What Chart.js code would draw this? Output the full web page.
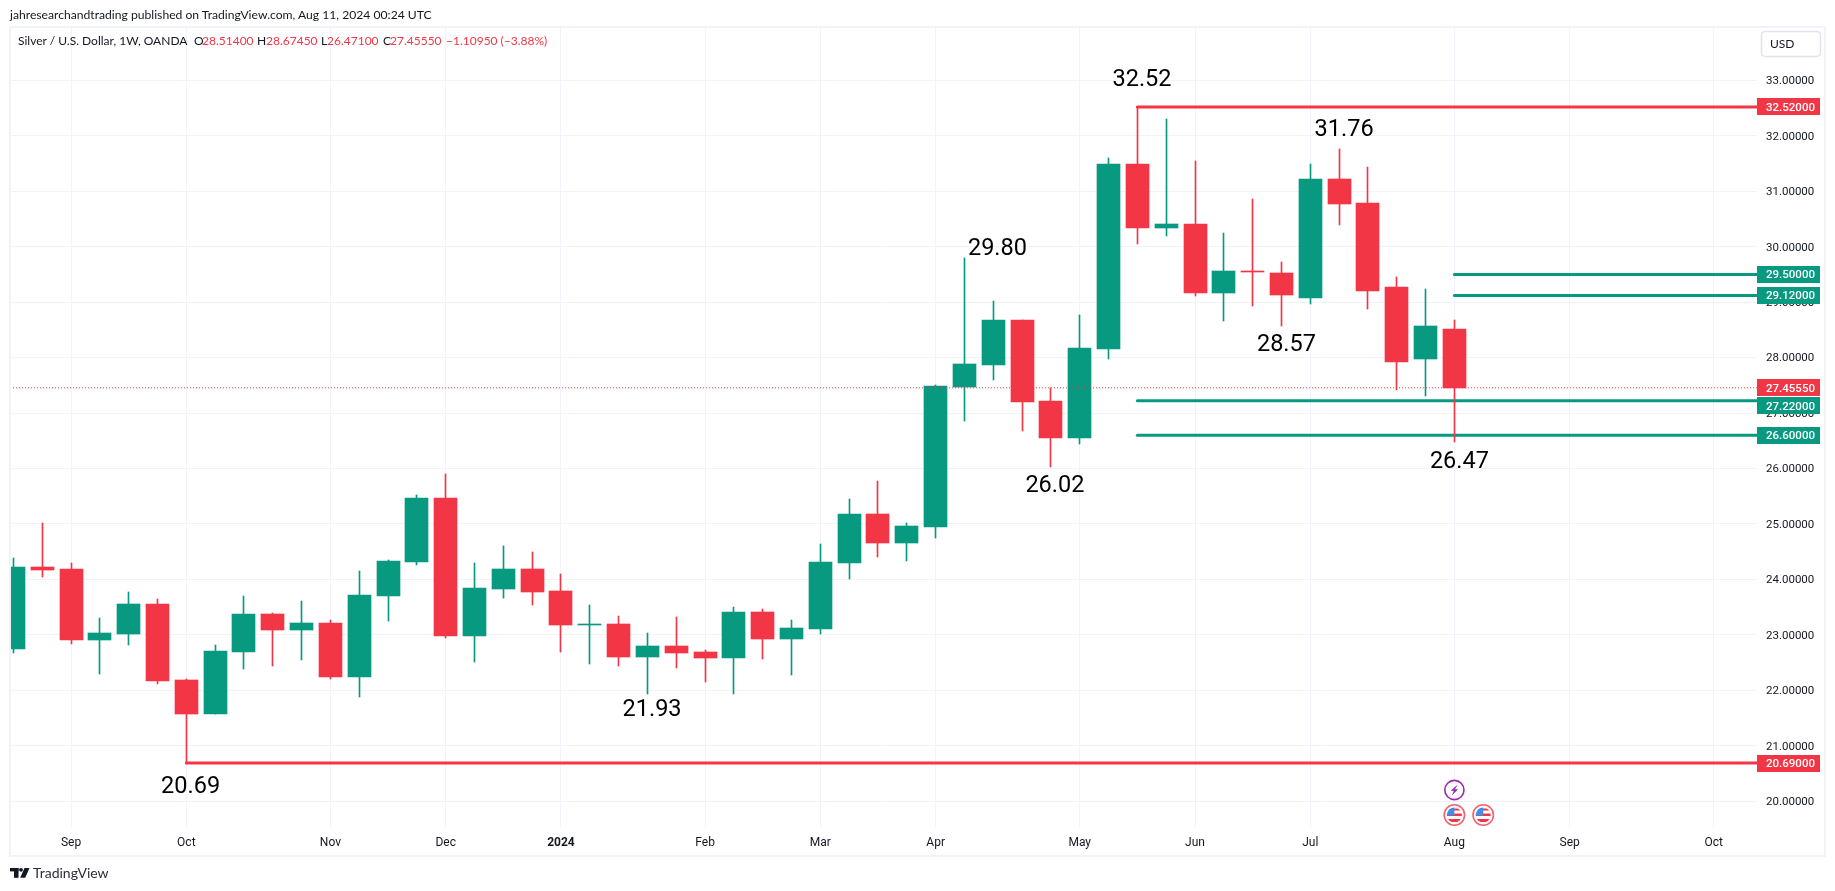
<!DOCTYPE html>
<html>
<head>
<meta charset="utf-8">
<title>Silver / U.S. Dollar, 1W, OANDA</title>
<script src="https://cdn.jsdelivr.net/npm/chart.js@4"></script>
<style>
  html,body{margin:0;padding:0;background:#fff;width:1835px;height:891px;overflow:hidden}
  canvas{position:absolute;left:0;top:0}
  .t{position:absolute;white-space:nowrap;font-family:"Lato","Roboto",sans-serif;font-size:12px;line-height:14px;color:#131722}
  .r{color:#f23645}
</style>
</head>
<body>
<canvas id="c" width="1835" height="891"></canvas>
<div class="t" style="left:10px;top:8px;font-size:12.15px">jahresearchandtrading published on TradingView.com, Aug 11, 2024 00:24 UTC</div>
<div class="t" style="left:18px;top:34px">Silver / U.S. Dollar, 1W, OANDA</div>
<div class="t" style="left:194px;top:34px">O</div><div class="t r" style="left:202px;top:34px">28.51400</div>
<div class="t" style="left:257px;top:34px">H</div><div class="t r" style="left:266px;top:34px">28.67450</div>
<div class="t" style="left:321px;top:34px">L</div><div class="t r" style="left:327px;top:34px">26.47100</div>
<div class="t" style="left:383px;top:34px">C</div><div class="t r" style="left:390px;top:34px">27.45550</div>
<div class="t r" style="left:446px;top:34px">−1.10950 (−3.88%)</div>
<div class="t" style="left:1770px;top:37px">USD</div>
<div class="t" style="left:33px;top:866px;font-size:14px;color:#2a2e39">TradingView</div>
<script>
const opens  = [22.75,24.23,24.19,22.91,23.02,23.56,22.19,21.57,22.69,23.38,23.09,23.22,22.24,23.70,24.32,25.47,22.98,23.83,24.19,23.79,23.19,23.20,22.60,22.80,22.69,22.58,23.41,22.93,23.11,24.30,25.18,24.66,24.95,27.47,27.87,28.68,27.22,26.55,28.16,31.49,30.34,30.41,29.17,29.56,29.53,29.08,31.22,30.79,29.27,27.98,28.514];
const highs  = [24.39,25.02,24.30,23.31,23.77,23.65,22.21,22.82,23.70,23.39,23.61,23.27,24.15,24.35,25.52,25.90,24.30,24.60,24.50,24.10,23.54,23.34,23.04,23.32,22.73,23.50,23.47,23.27,24.64,25.45,25.78,25.02,27.51,29.80,29.02,28.68,27.45,28.77,31.60,32.52,32.30,31.55,30.25,30.86,29.72,31.49,31.76,31.44,29.45,29.24,28.6745];
const lows   = [22.67,24.04,22.84,22.30,22.82,22.12,20.69,21.57,22.39,22.44,22.55,22.21,21.88,23.25,24.26,22.95,22.51,23.67,23.54,22.69,22.48,22.44,21.93,22.40,22.15,21.94,22.57,22.28,23.02,24.01,24.41,24.33,24.75,26.86,27.60,26.68,26.02,26.44,27.98,30.05,30.19,29.11,28.66,28.93,28.57,28.97,30.39,28.88,27.42,27.31,26.471];
const closes = [24.23,24.17,22.91,23.04,23.56,22.17,21.57,22.71,23.38,23.09,23.22,22.24,23.72,24.33,25.47,22.98,23.85,24.19,23.77,23.18,23.20,22.60,22.80,22.67,22.58,23.41,22.93,23.13,24.32,25.18,24.66,24.96,27.49,27.89,28.68,27.20,26.55,28.17,31.49,30.34,30.41,29.17,29.56,29.55,29.13,31.22,30.77,29.20,27.92,28.57,27.4555];

const monthTickIndexes = [2,6,11,15,19,24,28,32,37,41,45,50,54,59];
const monthTickLabels  = ["Sep","Oct","Nov","Dec","2024","Feb","Mar","Apr","May","Jun","Jul","Aug","Sep","Oct"];
const priceTicks = [20,21,22,23,24,25,26,27,28,29,30,31,32,33];

const levelValues  = [32.52,20.69,29.50,29.12,27.22,26.60];
const levelStarts  = [39,6,50,50,39,39];
const levelIsRed   = [true,true,false,false,false,false];
const lastPrice = 27.4555;

const calloutTexts   = ["32.52","31.76","29.80","28.57","26.47","26.02","21.93","20.69"];
const calloutIndexes = [39,46,33,44,50,36,22,6];
const calloutValues  = [32.52,31.76,29.80,28.57,26.47,26.02,21.93,20.69];

const flagEventIndexes = [50,51];
const boltEventIndexes = [50];

/* style only */
const RED="#f23645", GREEN="#089981", GRID="#f0f3fa", TEXT="#131722";
const FONT='Roboto, "Liberation Sans", sans-serif';
const X_MIN=-0.118, X_MAX=60.5, Y_MIN=19.536, Y_MAX=33.961;
const calloutOffsets=[[4.6,-27],[5,-19],[33,-9],[5,19.5],[5,19.5],[4,18.3],[4.6,15.5],[4.3,24]];
const labelNudge={27.22:5};

const isUp = closes.map((c,i)=>c>=opens[i]);
const idx = closes.map((_,i)=>i);
const colors = isUp.map(u=>u?GREEN:RED);
colors[43]=RED; 

const snap={
  id:'snap',
  afterDatasetsUpdate(chart){
    chart.data.datasets.forEach((d,i)=>{
      if(d.type!=='bar')return;
      chart.getDatasetMeta(i).data.forEach(el=>{
        el.x=Math.floor(el.x)+0.5;
        el.y=Math.round(el.y);
        el.base=Math.round(el.base);
        if(el.y===el.base) el.base+=1;
      });
    });
  }
};

function priceBox(ctx,chart,v,color,nudge){
  const y=chart.scales.y.getPixelForValue(v)+(nudge||0);
  const a=chart.chartArea;
  ctx.fillStyle=color;
  ctx.fillRect(a.right,Math.round(y-8.5),63,17);
  ctx.fillStyle="#fff";
  ctx.font='500 11.5px '+FONT;
  ctx.textAlign="left";ctx.textBaseline="middle";
  ctx.fillText(v.toFixed(5),a.right+9,Math.round(y)+1);
}
function flagIcon(ctx,x,y){
  ctx.save();
  ctx.beginPath();ctx.arc(x,y,10.2,0,Math.PI*2);ctx.fillStyle="#fff";ctx.fill();
  ctx.lineWidth=1.6;ctx.strokeStyle="#f5606c";ctx.stroke();
  ctx.beginPath();ctx.arc(x,y,7.5,0,Math.PI*2);ctx.clip();
  ctx.fillStyle="#fff";ctx.fillRect(x-8,y-8,16,16);
  ctx.fillStyle="#f23645";
  ctx.fillRect(x-8,y-6.5,16,2);ctx.fillRect(x-8,y-1.5,16,2.5);ctx.fillRect(x-8,y+4,16,3);
  ctx.fillStyle="#3d8fe8";ctx.fillRect(x-8,y-8,8,8.5);
  ctx.restore();
}
function boltIcon(ctx,x,y){
  ctx.save();
  ctx.beginPath();ctx.arc(x,y,9.6,0,Math.PI*2);ctx.fillStyle="#fff";ctx.fill();
  ctx.lineWidth=1.6;ctx.strokeStyle="#9c27b0";ctx.stroke();
  ctx.fillStyle="#9c27b0";ctx.beginPath();
  ctx.moveTo(x+3.5,y-5.5);ctx.lineTo(x-3.8,y+0.8);ctx.lineTo(x-0.6,y+0.8);
  ctx.lineTo(x-2.5,y+5.5);ctx.lineTo(x+3.8,y-0.8);ctx.lineTo(x+0.6,y-0.8);ctx.closePath();ctx.fill();
  ctx.restore();
}
function logo(ctx){
  ctx.save();ctx.fillStyle="#131722";
  ctx.fillRect(10,868,8.5,3.4);ctx.fillRect(14,868,4.5,9.8);
  ctx.beginPath();ctx.arc(21,869.8,1.9,0,Math.PI*2);ctx.fill();
  ctx.beginPath();ctx.moveTo(24.5,868);ctx.lineTo(29.5,868);ctx.lineTo(25.2,877.8);ctx.lineTo(20.2,877.8);ctx.closePath();ctx.fill();
  ctx.restore();
}
const overlay={
  id:'overlay',
  afterDraw(chart){
    const {ctx,scales:{x,y}}=chart;
    ctx.save();
    ctx.fillStyle=GRID;
    ctx.fillRect(9,26,1817,2);ctx.fillRect(9,855,1817,2);
    ctx.fillRect(9,26,2,831);ctx.fillRect(1824,26,2,831);
    ctx.fillStyle=TEXT;ctx.textAlign="center";ctx.textBaseline="middle";
    ctx.font='23.5px '+FONT;ctx.fillStyle="#000";
    calloutTexts.forEach((t,i)=>{
      ctx.fillText(t,x.getPixelForValue(calloutIndexes[i])+calloutOffsets[i][0],
                     y.getPixelForValue(calloutValues[i])+calloutOffsets[i][1]);
    });
    priceBox(ctx,chart,lastPrice,RED,0);
    levelValues.forEach((v,i)=>priceBox(ctx,chart,v,levelIsRed[i]?RED:GREEN,labelNudge[v]));
    ctx.beginPath();ctx.roundRect(1761.5,31.5,59,25,4);ctx.strokeStyle="#e0e3eb";ctx.lineWidth=1.5;ctx.stroke();
    boltEventIndexes.forEach(i=>boltIcon(ctx,x.getPixelForValue(i),790));
    flagEventIndexes.forEach(i=>flagIcon(ctx,x.getPixelForValue(i),815));
    logo(ctx);
    ctx.restore();
  }
};

const datasets=[
  ...levelValues.map((v,i)=>({
    type:'line',order:4,
    data:[{x:levelStarts[i],y:v},{x:X_MAX,y:v}],
    borderColor:levelIsRed[i]?RED:GREEN,borderWidth:3,borderCapStyle:'round',pointRadius:0,tension:0
  })),
  {
    type:'bar',order:3,grouped:false,
    data:idx.map(i=>({x:i,y:[lows[i],highs[i]]})),
    backgroundColor:colors,barThickness:1,borderWidth:0
  },
  {
    type:'bar',order:2,grouped:false,
    data:idx.map(i=>({x:i,y:[opens[i],closes[i]]})),
    backgroundColor:colors,barThickness:23,borderWidth:0
  },
  {
    type:'line',order:1,
    data:[{x:X_MIN,y:lastPrice},{x:X_MAX,y:lastPrice}],
    borderColor:RED,borderWidth:1,borderDash:[1,2],pointRadius:0
  }
];

new Chart(document.getElementById('c'),{
  data:{datasets},
  plugins:[snap,overlay],
  options:{
    responsive:false,animation:false,
    layout:{padding:{left:10,top:27,right:10,bottom:35}},
    plugins:{legend:{display:false},tooltip:{enabled:false},title:{display:false}},
    scales:{
      x:{
        type:'linear',offset:false,min:X_MIN,max:X_MAX,
        afterBuildTicks(s){s.ticks=monthTickIndexes.map(v=>({value:v}));},
        afterFit(s){s.height=29;},
        grid:{color:GRID,drawTicks:false,offset:false},
        border:{display:false},
        ticks:{
          autoSkip:false,maxRotation:0,padding:9,color:TEXT,
          font:c=>({family:FONT,size:12,weight:(c.tick&&c.tick.value===19)?'bold':'normal'}),
          callback:v=>monthTickLabels[monthTickIndexes.indexOf(v)]
        }
      },
      y:{
        type:'linear',position:'right',min:Y_MIN,max:Y_MAX,
        afterBuildTicks(s){s.ticks=priceTicks.map(v=>({value:v}));},
        afterFit(s){s.width=68;},
        grid:{color:GRID,drawTicks:false},
        border:{display:false},
        ticks:{padding:9,labelOffset:1,color:TEXT,font:{family:FONT,size:11.5},callback:v=>v.toFixed(5)}
      }
    }
  }
});
</script>
</body>
</html>
